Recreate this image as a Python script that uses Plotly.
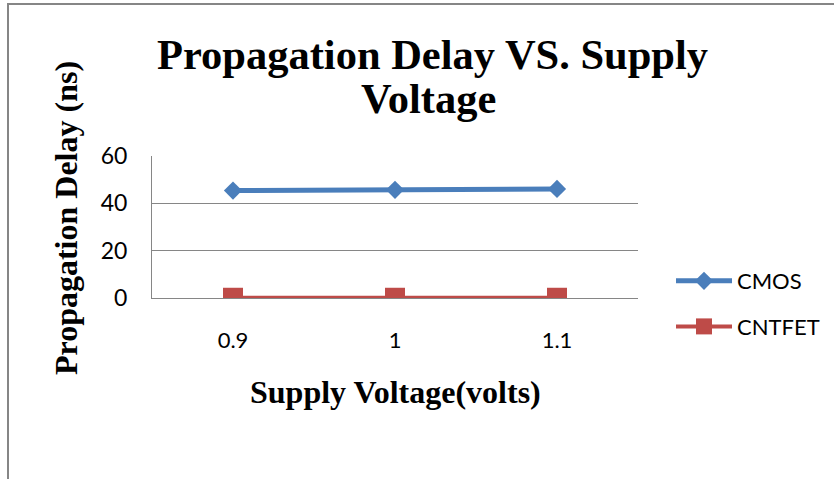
import plotly.graph_objects as go

categories = ["0.9", "1", "1.1"]
cmos = [45.4, 45.7, 46.1]
cntfet = [0.1, 0.1, 0.1]
y_ticks = [0, 20, 40, 60]

W, H = 834, 479
L, R, T, B = 152, 196, 156, 181

def py(p):  # pixel from top -> paper y
    return (H - B - p) / (H - T - B)

def px(p):  # pixel from left -> paper x
    return (p - L) / (W - L - R)

fig = go.Figure()
fig.add_trace(go.Scatter(
    x=categories, y=cmos, name="CMOS", mode="lines+markers",
    line=dict(color="#4A7EBB", width=5),
    marker=dict(symbol="diamond", size=14, color="#4A7EBB"),
    legendgroup="a"))
fig.add_trace(go.Scatter(
    x=categories, y=cntfet, name="CNTFET", mode="lines+markers",
    line=dict(color="#BE4B48", width=4),
    marker=dict(symbol="square", size=20, color="#BE4B48"),
    legendgroup="b"))

serif = "Liberation Serif, Times New Roman, serif"
sans = "Lato, Calibri, sans-serif"

fig.update_layout(
    width=W, height=H,
    margin=dict(l=L, r=R, t=T, b=B, pad=0, autoexpand=False),
    paper_bgcolor="white", plot_bgcolor="white",
    showlegend=True,
    legend=dict(xref="container", yref="container",
                x=671 / W, y=1 - 260 / H, xanchor="left", yanchor="top",
                font=dict(family=sans, size=22, color="black"),
                tracegroupgap=14, itemwidth=56, bgcolor="rgba(0,0,0,0)"),
    xaxis=dict(type="category", range=[-0.5, 2.5],
               showgrid=False, showline=True, linecolor="#868686", linewidth=1,
               zeroline=False, ticks="", ticklabelstandoff=23,
               tickfont=dict(family=sans, size=22, color="black")),
    yaxis=dict(range=[0, 60], tickvals=y_ticks,
               showgrid=True, gridcolor="#868686", gridwidth=1,
               showline=True, linecolor="#868686", linewidth=1,
               zeroline=False, ticks="", ticklabelstandoff=19,
               tickfont=dict(family=sans, size=23, color="black")),
    annotations=[
        dict(text="<b>Propagation Delay VS. Supply</b>", xref="paper", yref="paper",
             x=px(432), y=py(54), xanchor="center", yanchor="middle", showarrow=False,
             font=dict(family=serif, size=42.5, color="black")),
        dict(text="<b>Voltage</b>", xref="paper", yref="paper",
             x=px(428), y=py(98), xanchor="center", yanchor="middle", showarrow=False,
             font=dict(family=serif, size=42.5, color="black")),
        dict(text="<b>Supply Voltage(volts)</b>", xref="paper", yref="paper",
             x=px(395), y=py(392), xanchor="center", yanchor="middle", showarrow=False,
             font=dict(family=serif, size=32, color="black")),
        dict(text="<b>Propagation Delay (ns)</b>", xref="paper", yref="paper",
             x=px(66), y=py(218), xanchor="center", yanchor="middle", showarrow=False,
             textangle=-90, font=dict(family=serif, size=32, color="black")),
    ],
    shapes=[
        dict(type="rect", xref="paper", yref="paper",
             x0=px(8), x1=px(900), y0=py(600), y1=py(4),
             line=dict(color="#868686", width=2), fillcolor="rgba(0,0,0,0)", layer="below"),
    ],
)

fig.write_html("out.html", config={"displayModeBar": False},
               post_script="document.body.style.margin='0';document.body.style.overflow='hidden';")
